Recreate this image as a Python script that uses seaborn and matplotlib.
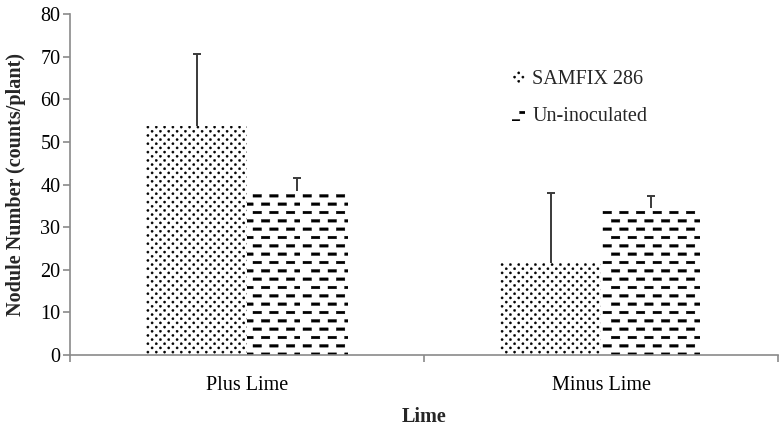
import numpy as np
import pandas as pd
import matplotlib
matplotlib.use("Agg")
import matplotlib.pyplot as plt
import matplotlib.hatch as mhatch
import matplotlib.patches as mpatches
from matplotlib.path import Path
from matplotlib.ticker import FixedLocator
import seaborn as sns

# ---------------- data ----------------
categories = ["Plus Lime", "Minus Lime"]
treatments = ["SAMFIX 286", "Un-inoculated"]
samfix_values = [53.8, 21.6]
uninoc_values = [38.4, 34.6]
samfix_err = [16.8, 16.3]
uninoc_err = [3.2, 2.6]
y_ticks = [0, 10, 20, 30, 40, 50, 60, 70, 80]
x_label = "Lime"
y_label = "Nodule Number (counts/plant)"


# ---------------- custom hatches (dots lattice and dashes) ----------------
class DotHatch:
    def __init__(self, hatch, density):
        n = hatch.count(".")
        self.cols = 12 * n
        self.rows = 24 * n
        circ = Path.unit_circle()
        self.cv = circ.vertices
        self.cc = circ.codes
        self.r = 0.011
        self.num_vertices = (self.cols * self.rows * len(self.cv)) if n else 0

    def set_vertices_and_codes(self, vertices, codes):
        k = len(self.cv)
        i = 0
        for r in range(self.rows):
            y = (r + 0.5) / self.rows
            shift = 0.5 * (r % 2) + 0.25
            for c in range(self.cols):
                x = (c + shift) / self.cols
                vertices[i:i + k] = self.cv * self.r + (x, y)
                codes[i:i + k] = self.cc
                i += k


class DashHatch:
    def __init__(self, hatch, density):
        n = hatch.count("-")
        self.rows = 12 * n
        self.cols = 6 * n
        self.num_vertices = (self.rows * self.cols * 5) if n else 0

    def set_vertices_and_codes(self, vertices, codes):
        i = 0
        L = 0.085
        h = 0.026
        for r in range(self.rows):
            y = (r + 0.5) / self.rows
            off = 0.5 * (r % 2)
            for c in range(self.cols):
                x0 = (c + off) / self.cols + 0.03
                vertices[i:i + 5] = [(x0, y - h / 2), (x0 + L, y - h / 2),
                                     (x0 + L, y + h / 2), (x0, y + h / 2),
                                     (x0, y - h / 2)]
                codes[i:i + 5] = [Path.MOVETO, Path.LINETO, Path.LINETO,
                                  Path.LINETO, Path.CLOSEPOLY]
                i += 5


mhatch._hatch_types = [DashHatch, DotHatch]

# ---------------- figure ----------------
sns.set_theme(style="white")
plt.rcParams["font.family"] = ["Liberation Serif", "DejaVu Serif"]
plt.rcParams["hatch.linewidth"] = 0.3

FS = 14.5

df = pd.DataFrame({
    "Lime": categories * 2,
    "Treatment": [treatments[0]] * 2 + [treatments[1]] * 2,
    "Value": samfix_values + uninoc_values,
})

fig = plt.figure(figsize=(7.8, 4.28), dpi=100)
ax = fig.add_axes([70 / 780, 1 - 355 / 428, 708 / 780, 341 / 428])

sns.barplot(data=df, x="Lime", y="Value", hue="Treatment", order=categories,
            hue_order=treatments, palette=["white", "white"], width=0.57,
            edgecolor="black", linewidth=0, errorbar=None, ax=ax, legend=False)

hatches = [".", "-"]
errs = [samfix_err, uninoc_err]
for cont, hp, err in zip(ax.containers, hatches, errs):
    for bar, e in zip(cont, err):
        bar.set_hatch(hp)
        bar.set_edgecolor("black")
        bar.set_linewidth(0)
        xc = bar.get_x() + bar.get_width() / 2
        eb = ax.errorbar([xc], [bar.get_height()], yerr=[[0], [e]], fmt="none",
                         ecolor="#3a3a3a", elinewidth=1.4, capsize=3,
                         capthick=1.4, zorder=3)
        caps = eb[1]
        if len(caps) == 2:
            low = min(caps, key=lambda c: c.get_ydata()[0])
            low.set_visible(False)

ax.set_ylim(0, 80)
ax.set_xlim(-0.5, 1.5)
ax.yaxis.set_major_locator(FixedLocator(y_ticks))
ax.xaxis.set_minor_locator(FixedLocator([-0.5, 0.5, 1.5]))

axis_gray = "#8a8a8a"
for s in ["top", "right"]:
    ax.spines[s].set_visible(False)
for s in ["left", "bottom"]:
    ax.spines[s].set_color(axis_gray)
    ax.spines[s].set_linewidth(1.2)

ax.tick_params(axis="y", which="major", direction="out", length=5, width=1.2,
               color=axis_gray, labelsize=FS, labelcolor="black", pad=2,
               left=True)
ax.tick_params(axis="x", which="major", length=0, labelsize=FS,
               labelcolor="black", pad=15)
ax.tick_params(axis="x", which="minor", direction="out", length=5, width=1.2,
               color=axis_gray, bottom=True)

ax.set_xlabel(x_label, fontsize=FS, fontweight="bold", labelpad=9)
ax.set_ylabel(y_label, fontsize=FS, fontweight="bold", labelpad=10)

handles = [mpatches.Patch(facecolor="white", edgecolor="black", linewidth=0,
                          hatch=h, label=t) for h, t in zip(hatches, treatments)]
leg = ax.legend(handles=handles, loc="upper left",
                bbox_to_anchor=(0.61, 0.865), frameon=False, fontsize=FS,
                handlelength=0.65, handleheight=0.65, handletextpad=0.35,
                labelspacing=0.9, borderpad=0)

fig.savefig("out.png", dpi=100)
